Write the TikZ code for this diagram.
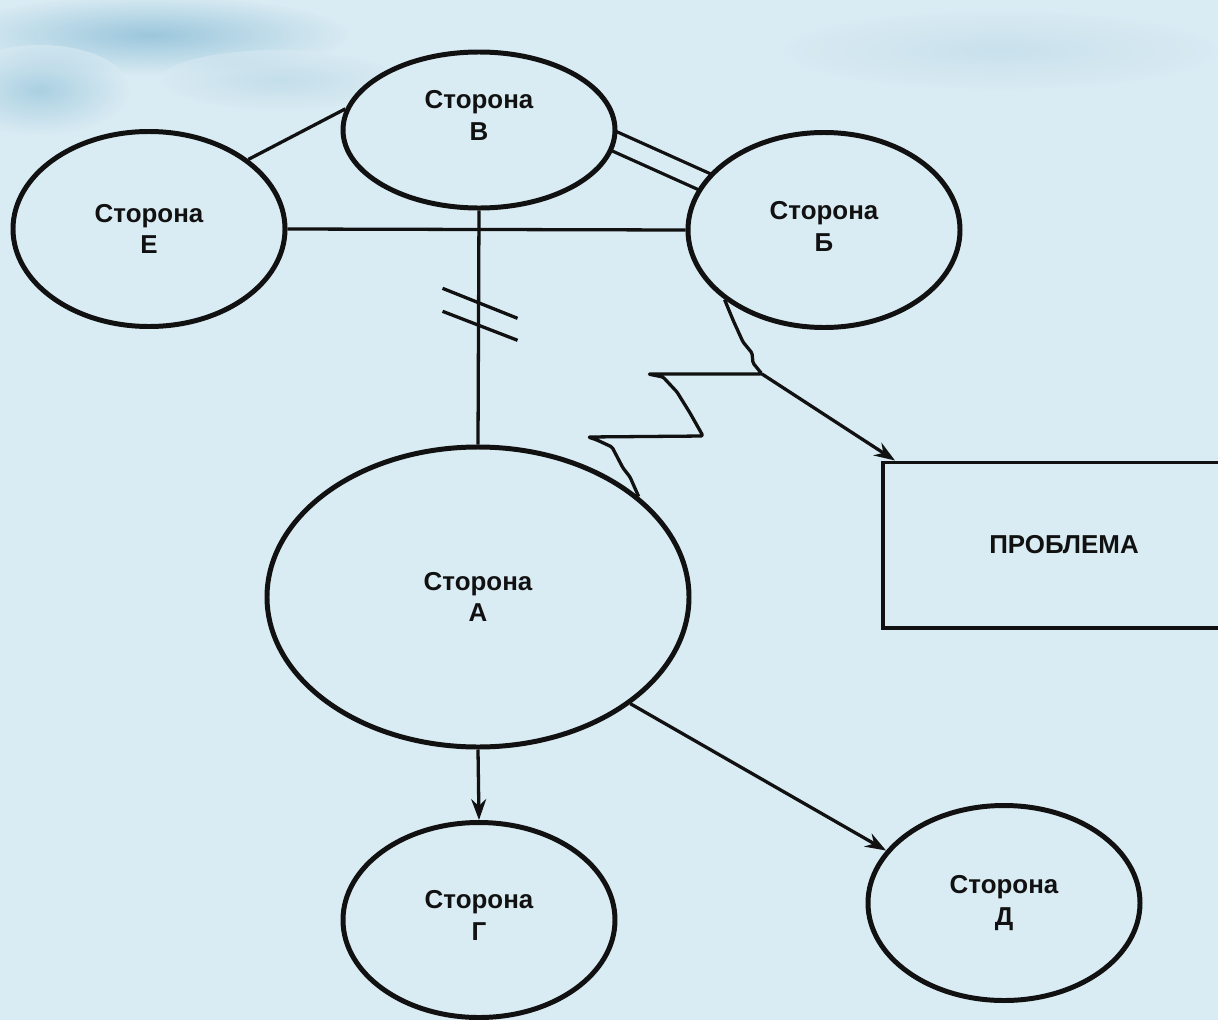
\documentclass[tikz,border=0pt]{standalone}
\usepackage{fontspec}
\setmainfont{Liberation Sans}
\usepackage{tikz}
\usetikzlibrary{shapes.geometric, arrows, arrows.meta, backgrounds}
\definecolor{paper}{RGB}{217,235,243}
\definecolor{haze}{RGB}{140,190,214}
\definecolor{ink}{RGB}{17,17,17}
\tikzstyle{side} = [ellipse, minimum width=272bp, minimum height=195bp, inner sep=0pt, align=center, draw=ink, line width=5pt, fill=paper, text=ink, font=\bfseries\fontsize{26}{32}\selectfont]
\tikzstyle{problemBox} = [rectangle, minimum width=362bp, minimum height=165bp, draw=ink, line width=4pt, fill=paper, text=ink, font=\bfseries\fontsize{26}{32}\selectfont]
\tikzstyle{link} = [line width=3.3pt, draw=ink]
\tikzstyle{arrow} = [line width=3.3pt, draw=ink, -{Stealth[length=21pt, width=15pt, inset=7pt]}]

\begin{document}
\begin{tikzpicture}[x=1bp, y=-1bp]
\useasboundingbox (0,0) rectangle (1218,1020);
% Define nodes
\node (storonaV) [side, minimum height=156bp, text depth=30pt] at (479,130) {Сторона\\В};
\node (storonaE) [side] at (149,229) {Сторона\\Е};
\node (storonaB) [side, text depth=8pt] at (824,230) {Сторона\\Б};
\node (storonaA) [side, minimum width=422bp, minimum height=300bp] at (478,597) {Сторона\\А};
\node (storonaG) [side, text depth=10pt] at (479,920) {Сторона\\Г};
\node (storonaD) [side] at (1004,903) {Сторона\\Д};
\node (problem) [problemBox] at (1064,545) {ПРОБЛЕМА};
\begin{scope}[on background layer]
% Background
\fill [paper] (-10,-10) rectangle (1230,1030);
\shade [inner color=haze, outer color=paper, opacity=0.8] (150,35) ellipse (200 and 40);
\shade [inner color=haze, outer color=paper, opacity=0.6] (40,90) ellipse (90 and 45);
\shade [inner color=haze!70, outer color=paper, opacity=0.5] (280,80) ellipse (120 and 30);
\shade [inner color=haze!60, outer color=paper, opacity=0.5] (1000,50) ellipse (220 and 40);
% Connect nodes
\draw [link] (storonaV.171.7) -- (storonaE.35.9);
\draw [link] (storonaE.east) -- (storonaB.west);
\draw [link, double=paper, double distance=16bp, shorten <=-6pt, shorten >=-6pt] (storonaV.-5) -- (storonaB.158);
\draw [link] (storonaV.south) -- coordinate[pos=0.45] (cutMark) (storonaA.north);
\draw [link] ([shift={(-36,-27.5)}]cutMark) -- ++(75,30);
\draw [link] ([shift={(-36,-4.5)}]cutMark) -- ++(75,29);
\draw [arrow] (storonaA.south) -- (storonaG.north);
\draw [arrow] (storonaA.-35.4) -- (storonaD.156.3);
% Conflict zigzag
\draw [link, line join=round, rounded corners=1.5pt] (storonaB.215.3) -- (733,320) -- (743,342) -- (752,353) -- (753,363)
  -- (762,374) coordinate (boltTop) -- (648,374) -- (663,377) -- (677,392) -- (690,413) -- (703,436)
  -- (588,437) -- (597,440) -- (612,447) -- (623,468) -- (630,477) -- (storonaA.32.7);
\draw [arrow] (boltTop) -- ([xshift=14bp]problem.north west);
\end{scope}
\end{tikzpicture}
\end{document}
